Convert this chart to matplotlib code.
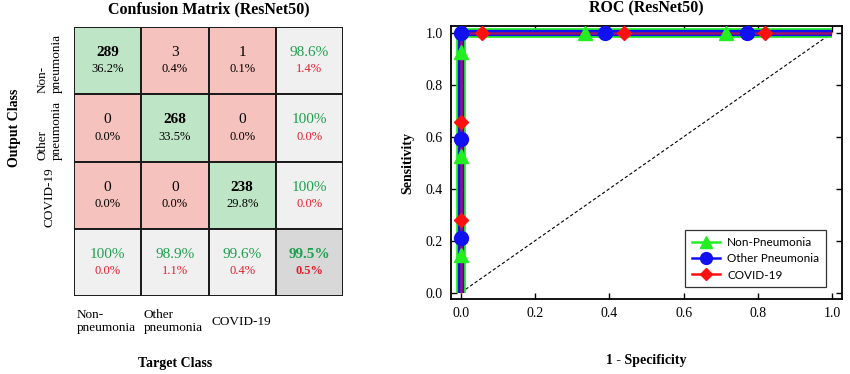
import numpy as np
import matplotlib
matplotlib.use("Agg")
import matplotlib.pyplot as plt
from matplotlib.patches import Rectangle
from matplotlib.lines import Line2D

plt.rcParams['font.family'] = ['Liberation Serif', 'DejaVu Serif']

# ── Data ──────────────────────────────────────────────────────────────────────
class_labels = ['Non-\npneumonia', 'Other\npneumonia', 'COVID-19']
counts = np.array([[289, 3, 1],
                   [0, 268, 0],
                   [0, 0, 238]])

roc_names = ['Non-Pneumonia', 'Other Pneumonia', 'COVID-19']
roc_fpr = [[0, 0, 1], [0, 0, 1], [0, 0, 1]]
roc_tpr = [[0, 1, 1], [0, 1, 1], [0, 1, 1]]
# marker positions along each curve
mark_fpr = [[0, 0, 0, 0.335, 0.715],
            [0, 0, 0, 0.388, 0.770],
            [0, 0, 0.057, 0.440, 0.820]]
mark_tpr = [[0.144, 0.526, 0.926, 1, 1],
            [0.210, 0.592, 1.0, 1, 1],
            [0.278, 0.658, 1, 1, 1]]

# ── Style ─────────────────────────────────────────────────────────────────────
c_green_cell = '#bee5c6'
c_red_cell = '#f5c2bd'
c_gray_cell = '#f0f0f0'
c_dark_cell = '#d8d8d8'
c_green_txt = '#1fa04e'
c_red_txt = '#e3202d'

def pct(v):
    return '100%' if round(v, 1) == 100 else f'{v:.1f}%'

fig = plt.figure(figsize=(8.5, 3.74), dpi=100)

# ── Confusion matrix ──────────────────────────────────────────────────────────
ax = fig.add_axes([0.0871, 0.2086, 0.3165, 0.719])
n = counts.shape[0]
total = counts.sum()
for i in range(n + 1):
    for j in range(n + 1):
        if i < n and j < n:
            fc = c_green_cell if i == j else c_red_cell
        elif i == n and j == n:
            fc = c_dark_cell
        else:
            fc = c_gray_cell
        ax.add_patch(Rectangle((j, i), 1, 1, facecolor=fc, edgecolor='#1a1a1a', lw=1.4))

        if i < n and j < n:
            v = counts[i, j]
            ax.text(j + 0.5, i + 0.38, f'{v}', ha='center', va='center', fontsize=11,
                    fontweight='bold' if i == j else 'normal')
            ax.text(j + 0.5, i + 0.63, f'{100 * v / total:.1f}%', ha='center', va='center',
                    fontsize=9)
        else:
            if i < n:
                good = counts[i, i] / counts[i].sum() * 100
            elif j < n:
                good = counts[j, j] / counts[:, j].sum() * 100
            else:
                good = np.trace(counts) / total * 100
            bad = 100 - good
            w = 'bold' if (i == n and j == n) else 'normal'
            ax.text(j + 0.5, i + 0.38, pct(good), ha='center', va='center', fontsize=11,
                    color=c_green_txt, fontweight=w)
            ax.text(j + 0.5, i + 0.63, f'{bad:.1f}%', ha='center', va='center', fontsize=9,
                    color=c_red_txt, fontweight=w)

ax.set_xlim(0, n + 1)
ax.set_ylim(n + 1, 0)
ax.set_xticks([])
ax.set_yticks([])
for s in ax.spines.values():
    s.set_visible(False)

for k, lab in enumerate(class_labels):
    ax.text(k + 0.04, 4.38, lab, ha='left', va='center', fontsize=9.5, linespacing=1.2)
    ax.text(-0.36, k + 0.98, lab, ha='center', va='bottom', rotation=90, fontsize=9.5,
            multialignment='left', linespacing=1.2)

ax.text(1.5, 5.0, 'Target Class', ha='center', va='center', fontsize=10, fontweight='bold')
ax.text(-0.88, 1.5, 'Output Class', ha='center', va='center', rotation=90, fontsize=10,
        fontweight='bold')
ax.set_title('Confusion Matrix (ResNet50)', fontsize=11.5, fontweight='bold', pad=10)

# ── ROC ───────────────────────────────────────────────────────────────────────
ax2 = fig.add_axes([0.5306, 0.2005, 0.46, 0.730])
line_colors = ['#22ee22', '#1010f0', '#ff1010']
line_widths = [7, 4.5, 1.8]
markers = ['^', 'o', 'D']
msizes = [10, 10, 7.5]

ax2.plot([0, 1], [0, 1], color='black', ls=(0, (3, 2)), lw=0.8, zorder=2)
for k in range(3):
    ax2.plot(roc_fpr[k], roc_tpr[k], color=line_colors[k], lw=line_widths[k],
             alpha=0.6 if k == 2 else 1.0, solid_capstyle='butt', zorder=3 + k)
handles = []
for k in range(3):
    ax2.plot(mark_fpr[k], mark_tpr[k], ls='none', marker=markers[k], ms=msizes[k],
             color=line_colors[k], mec=line_colors[k], zorder=7 + k)
    handles.append(Line2D([], [], color=line_colors[k], lw=1.8, marker=markers[k],
                          ms=msizes[k] - 1.5, label=roc_names[k]))

ax2.set_xlim(-0.027, 1.027)
ax2.set_ylim(-0.025, 1.027)
ticks = [0.0, 0.2, 0.4, 0.6, 0.8, 1.0]
ax2.set_xticks(ticks)
ax2.set_yticks(ticks)
ax2.set_xticklabels([f'{t:.1f}' for t in ticks])
ax2.set_yticklabels([f'{t:.1f}' for t in ticks])
ax2.tick_params(direction='in', top=True, right=True, length=4, width=1,
                labelsize=10, pad=6)
for s in ax2.spines.values():
    s.set_linewidth(1.3)
ax2.set_xlabel('1 - Specificity', fontsize=10, fontweight='bold', labelpad=24)
ax2.set_ylabel('Sensitivity', fontsize=10, fontweight='bold', labelpad=8)
ax2.set_title('ROC (ResNet50)', fontsize=11.5, fontweight='bold', pad=10)

leg = ax2.legend(handles=handles, loc='lower right', bbox_to_anchor=(0.959, 0.044),
                 borderaxespad=0, prop={'family': 'Lato', 'size': 8.5}, frameon=True,
                 fancybox=False, edgecolor='black', handlelength=2.4, handletextpad=0.6,
                 borderpad=0.55, labelspacing=0.45)
leg.get_frame().set_linewidth(0.9)

plt.savefig('out.png', dpi=100)
